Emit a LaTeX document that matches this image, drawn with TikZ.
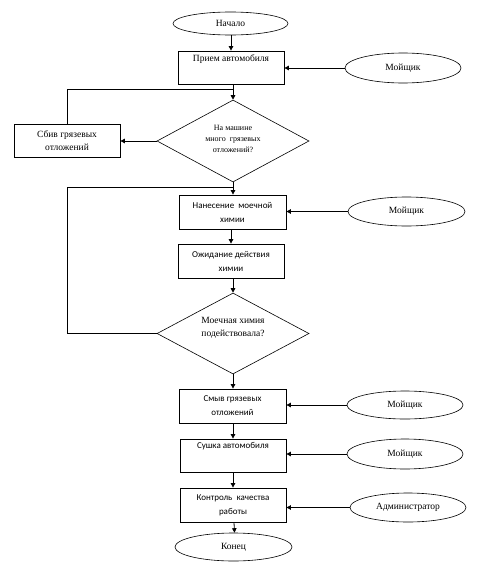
\documentclass[tikz,border=0pt]{standalone}
\usepackage{fontspec}
\setmainfont{Liberation Serif}
\newfontfamily\calib{Carlito}
\usetikzlibrary{shapes.geometric,arrows.meta}
\begin{document}
\begin{tikzpicture}[x=1pt,y=-1pt,
  every node/.style={inner sep=0pt},
  serifT/.style={font=\fontsize{9.5}{13}\selectfont},
  sansT/.style={font=\calib\fontsize{9}{14}\selectfont},
  box/.style={draw, line width=0.8pt, align=center},
  oval/.style={draw, ellipse, line width=0.6pt, serifT},
  dia/.style={draw, diamond, line width=0.6pt, aspect=1.85, align=center},
  conn/.style={line width=0.8pt},
  arr/.style={conn, -{Triangle[length=4.5pt,width=4.5pt]}}
]
\useasboundingbox (0,0) rectangle (483,570);
% start / end
\node[oval, minimum width=115pt, minimum height=23pt] (start) at (230.5,23.5) {Начало};
\node[oval, minimum width=117pt, minimum height=28pt] (end) at (233.5,547) {Конец};
% boxes
\node[box, serifT, minimum width=106pt, minimum height=33pt] (b1) at (231,67.5) {Прием автомобиля\\[1pt]\strut};
\node[box, serifT, minimum width=106pt, minimum height=33pt] (s) at (67,140.5) {Сбив грязевых\\отложений};
\node[box, sansT, minimum width=107pt, minimum height=34pt] (b2) at (232.5,212) {Нанесение\ \ моечной\\химии};
\node[box, sansT, minimum width=106pt, minimum height=34pt] (b3) at (231,261) {Ожидание действия\\химии};
\node[box, sansT, minimum width=107pt, minimum height=34pt] (b4) at (232.5,406) {Смыв грязевых\\отложений};
\node[box, sansT, minimum width=106pt, minimum height=33pt] (b5) at (233,455.5) {Сушка автомобиля\\[1pt]\strut};
\node[box, sansT, minimum width=106pt, minimum height=34pt] (b6) at (233,505) {Контроль\ \ качества\\работы};
% decisions
\node[dia, minimum width=152pt, minimum height=82pt] (d1) at (233,141) {};
\node[font=\fontsize{8}{11}\selectfont, align=center] (d1t) at (233,139) {На машине\\много\ \ грязевых\\отложений?};
\node[dia, minimum width=152pt, minimum height=81pt] (d2) at (233,333.5) {};
\node[serifT, align=center] (d2t) at (233,328) {Моечная химия\\подействовала?};
% roles
\node[oval, minimum width=116pt, minimum height=30pt] (w1) at (403,68) {Мойщик};
\node[oval, minimum width=117pt, minimum height=29pt] (w2) at (406.5,211.5) {Мойщик};
\node[oval, minimum width=116pt, minimum height=28pt] (w3) at (405,405) {Мойщик};
\node[oval, minimum width=116pt, minimum height=30pt] (w4) at (405,454) {Мойщик};
\node[oval, minimum width=116pt, minimum height=29pt] (w5) at (408,507.5) {Администратор};
% junction points
\coordinate (j1) at (233,89);
\coordinate (j2) at (233,187);
\coordinate (c1) at (67,187);
% main flow
\draw[arr] (start.south -| b1.north) -- (b1.north);
\draw[arr] (b1.south -| d1.north) -- (d1.north);
\draw[arr] (d1.west) -- (s.east |- d1.west);
\draw[conn] (s.north) |- (j1);
\draw[arr] (d1.south) -- (b2.north -| d1.south);
\draw[conn] (d2.west) -| (c1) -- (j2);
\draw[arr] (b2.south -| b3.north) -- (b3.north);
\draw[arr] (b3.south -| d2.north) -- (d2.north);
\draw[arr] (d2.south) -- (b4.north -| d2.south);
\draw[arr] (b4.south -| b5.north) -- (b5.north);
\draw[arr] (b5.south -| b6.north) -- (b6.north);
\draw[arr] ([xshift=1pt]b6.south) -- ([xshift=1pt]end.north);
% roles
\draw[arr] (w1.west) -- (b1.east |- w1.west);
\draw[arr] (w2.west) -- (b2.east |- w2.west);
\draw[arr] (w3.west) -- (b4.east |- w3.west);
\draw[arr] (w4.west) -- (b5.east |- w4.west);
\draw[arr] (w5.west) -- (b6.east |- w5.west);
\end{tikzpicture}
\end{document}
